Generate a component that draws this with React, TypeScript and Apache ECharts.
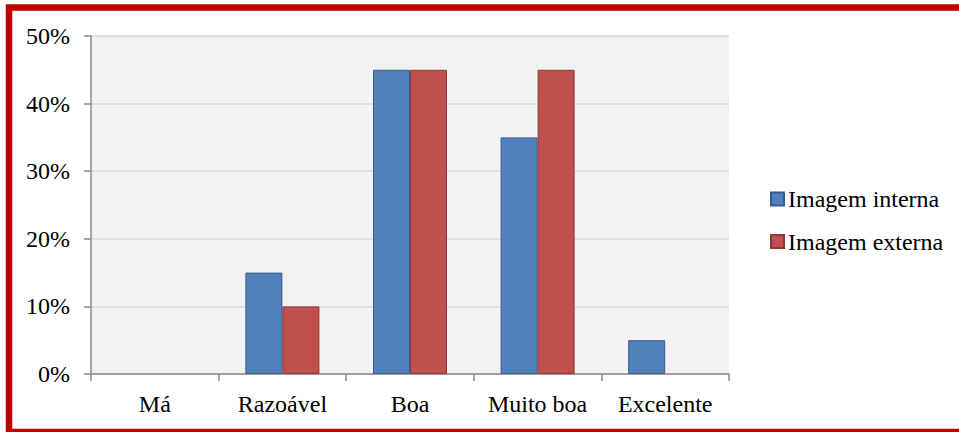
import React, { useEffect, useRef } from "react";
import * as echarts from "echarts";

const categories = ["Má", "Razoável", "Boa", "Muito boa", "Excelente"];
const seriesNames = ["Imagem interna", "Imagem externa"];
const internalValues = [0, 15, 45, 35, 5];
const externalValues = [0, 10, 45, 45, 0];
const yTicks = [0, 10, 20, 30, 40, 50];

const FONT = "Liberation Serif";
const FONT_SIZE = 24;

// zero-height bars are left out so their border does not leave a sliver
const barData = (values: number[]) => values.map((v) => (v === 0 ? null : v));

export default function App() {
  const ref = useRef<HTMLDivElement>(null);

  useEffect(() => {
    if (!ref.current) return;
    const chart = echarts.init(ref.current, undefined, { renderer: "svg" });
    const yMax = yTicks[yTicks.length - 1];
    const yStep = yTicks[1] - yTicks[0];

    chart.setOption({
      animation: false,
      backgroundColor: "#ffffff",
      textStyle: { fontFamily: FONT },
      graphic: [
        {
          type: "rect",
          z: 100,
          shape: { x: 9, y: 7.5, width: 2000, height: 424.5 },
          style: { fill: "none", stroke: "#c00000", lineWidth: 6.5 },
        },
      ],
      grid: {
        left: 91,
        right: 230,
        top: 36,
        bottom: 58,
        show: true,
        backgroundColor: "#f2f2f2",
        borderWidth: 0,
      },
      legend: {
        orient: "vertical",
        left: 770,
        top: 187,
        padding: 0,
        icon: "rect",
        itemWidth: 13,
        itemHeight: 13,
        itemGap: 18.5,
        data: seriesNames,
        textStyle: {
          fontFamily: FONT,
          fontSize: FONT_SIZE,
          color: "#000000",
          lineHeight: FONT_SIZE,
          padding: [0, 0, 0, -1],
        },
      },
      xAxis: {
        type: "category",
        data: categories,
        boundaryGap: true,
        axisLine: { show: true, lineStyle: { color: "#8a8a8a", width: 1.5 } },
        axisTick: {
          show: true,
          interval: 0,
          length: 7,
          lineStyle: { color: "#8a8a8a", width: 1.5 },
        },
        axisLabel: {
          interval: 0,
          margin: 18,
          fontFamily: FONT,
          fontSize: FONT_SIZE,
          color: "#000000",
        },
        splitLine: { show: false },
      },
      yAxis: {
        type: "value",
        min: 0,
        max: yMax,
        interval: yStep,
        axisLine: { show: true, lineStyle: { color: "#8a8a8a", width: 1.5 } },
        axisTick: {
          show: true,
          length: 7,
          lineStyle: { color: "#8a8a8a", width: 1.5 },
        },
        axisLabel: {
          margin: 21,
          fontFamily: FONT,
          fontSize: FONT_SIZE,
          color: "#000000",
          formatter: (v: number) => `${v}%`,
        },
        splitLine: { show: true, lineStyle: { color: "#d9d9d9", width: 1.5 } },
      },
      series: [
        {
          name: seriesNames[0],
          type: "bar",
          data: barData(internalValues),
          barWidth: 37,
          barGap: "0%",
          itemStyle: { color: "#4f81bd", borderColor: "#385d8a", borderWidth: 1 },
        },
        {
          name: seriesNames[1],
          type: "bar",
          data: barData(externalValues),
          barWidth: 37,
          barGap: "0%",
          itemStyle: { color: "#c0504d", borderColor: "#8c3836", borderWidth: 1 },
        },
      ],
    });

    return () => chart.dispose();
  }, []);

  return (
    <div
      ref={ref}
      style={{ position: "fixed", left: 0, top: 0, width: 959, height: 432 }}
    />
  );
}
